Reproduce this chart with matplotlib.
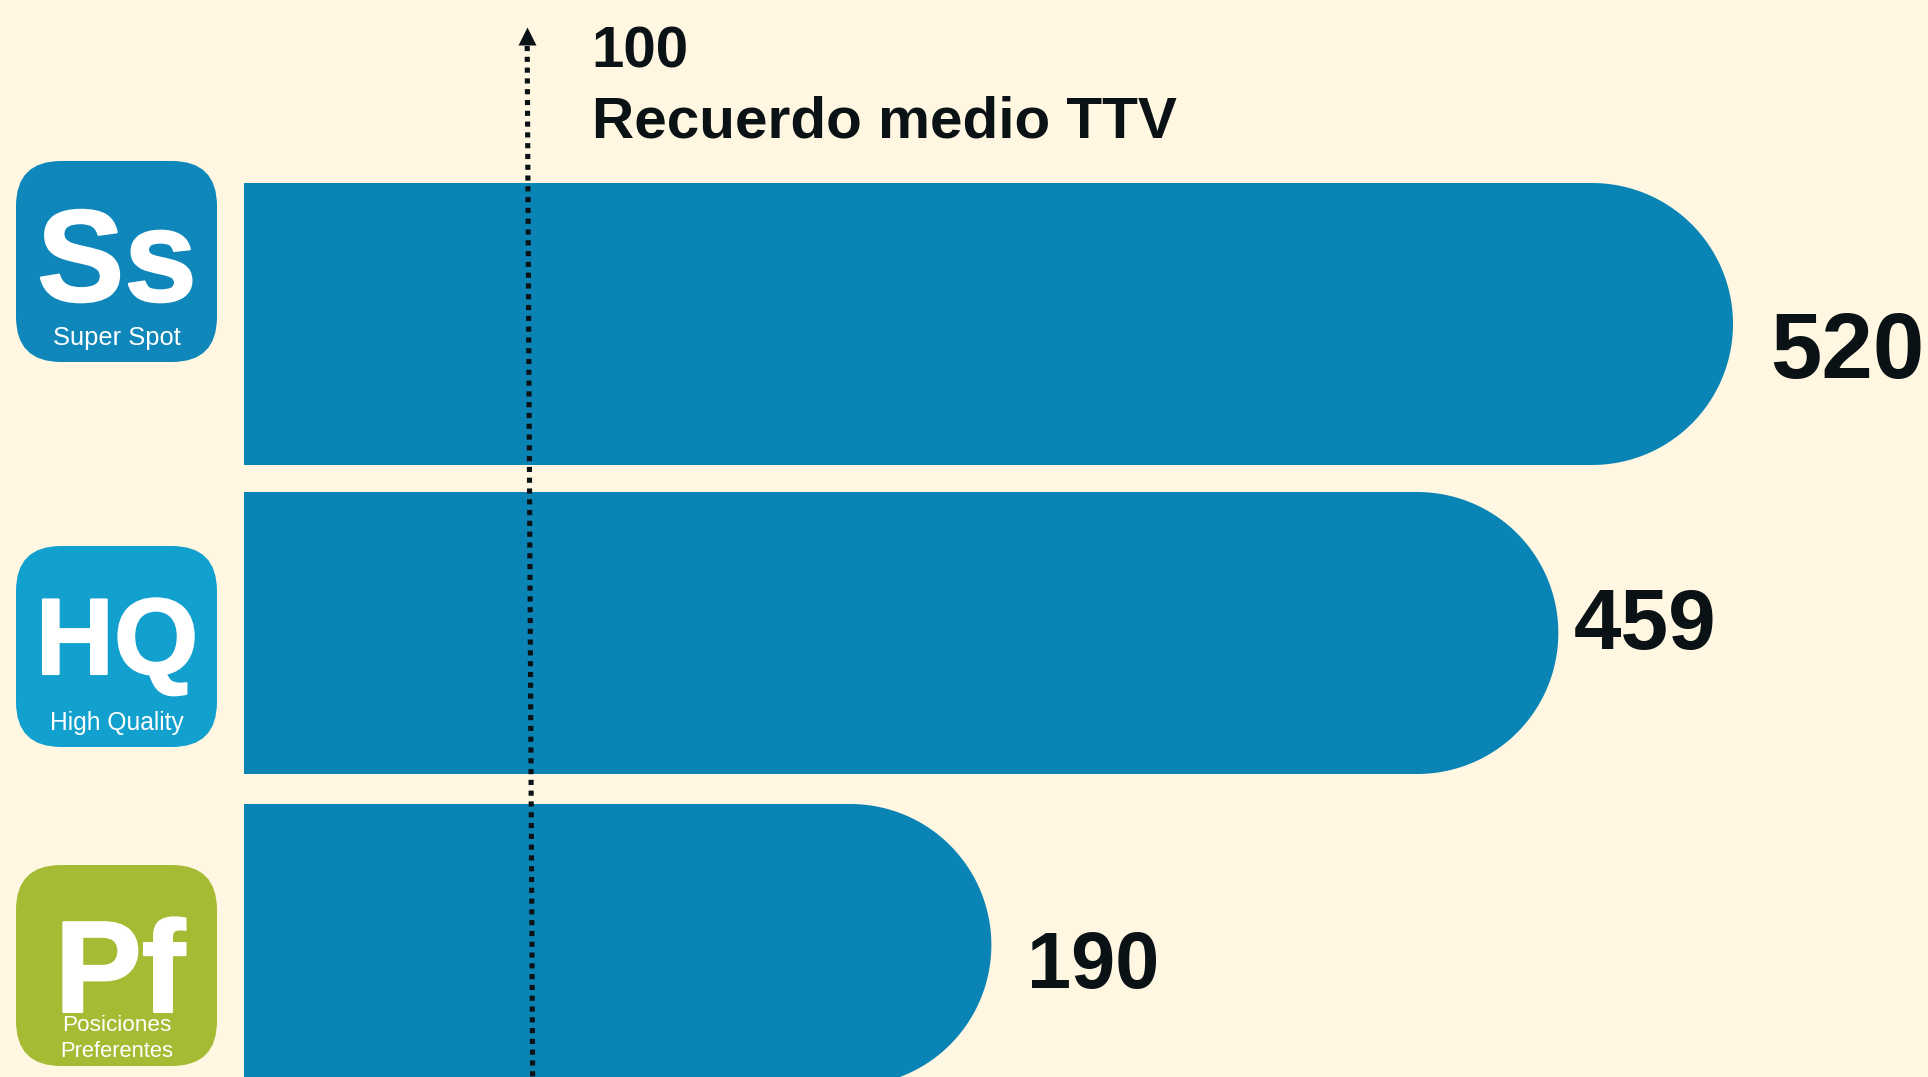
import numpy as np
import matplotlib
matplotlib.use("Agg")
import matplotlib.pyplot as plt
import matplotlib.patheffects as pe
from matplotlib.patches import FancyBboxPatch, Polygon

plt.rcParams['font.family'] = ['Liberation Sans', 'DejaVu Sans']

# third bar is drawn longer than its label in the original
bar_lengths = [520, 459, 261]
bar_labels = ["520", "459", "190"]
ref_value = [98.9, 100.8]
ref_label = "100"
ref_title = "Recuerdo medio TTV"

BG = '#fff7e2'
BAR = '#0a83b5'
DARK = '#0b1215'
W, H = 1928, 1077
PX_PER_UNIT = 2.8635
X0 = 244

fig = plt.figure(figsize=(W / 100, H / 100), dpi=100, facecolor=BG)
ax = fig.add_axes([0, 0, 1, 1])
ax.set_xlim(-X0 / PX_PER_UNIT, (W - X0) / PX_PER_UNIT)
ax.set_ylim(H, 0)
ax.axis('off')

# overlay in pixel coords for icons and text
ov = fig.add_axes([0, 0, 1, 1])
ov.set_xlim(0, W)
ov.set_ylim(H, 0)
ov.axis('off')

bar_tops = [183, 492, 804]
bar_h = 282
r_x = (bar_h / 2) / PX_PER_UNIT
theta = np.linspace(np.pi / 2, -np.pi / 2, 80)
for top, length in zip(bar_tops, bar_lengths):
    cy = top + bar_h / 2
    xs = (length - r_x) + r_x * np.cos(theta)
    ys = cy - (bar_h / 2) * np.sin(theta)
    pts = [(0, top)] + list(zip(xs, ys)) + [(0, top + bar_h)]
    ax.add_patch(Polygon(pts, closed=True, facecolor=BAR, edgecolor='none'))

# dotted reference arrow
ax.plot(ref_value, [46, H], color=DARK, lw=3.7, linestyle=(0, (1, 1.1)), dash_capstyle='butt')
ax.plot(ref_value[0], 36, marker='^', ms=13.5, color=DARK, mec='none')

ov.text(591, 68, ref_label, fontsize=42, fontweight='bold', color=DARK, va='baseline')
ov.text(592, 137, ref_title, fontsize=42.1, fontweight='bold', color=DARK, va='baseline')

# value labels
label_x = [1770, 1574, 1027]
label_y = [378, 649, 988]
label_fs = [66.5, 61.6, 57]
for s, x, y, fs in zip(bar_labels, label_x, label_y, label_fs):
    ov.text(x, y, s, fontsize=fs, fontweight='bold', color=DARK, va='baseline')

# icons
def icon(top, color, big, big_x, big_y, big_fs, small, small_y, small_fs):
    ov.add_patch(FancyBboxPatch((16 + 45, top + 45), 201 - 90, 201 - 90,
                                boxstyle="round,pad=45,rounding_size=45",
                                facecolor=color, edgecolor='none'))
    t = ov.text(big_x, big_y, big, fontsize=big_fs, fontweight='bold', color='white', ha='center', va='baseline')
    t.set_path_effects([pe.withStroke(linewidth=1.5, foreground='white')])
    for s, y, fs in zip(small, small_y, small_fs):
        ov.text(117, y, s, fontsize=fs, color='white', ha='center', va='baseline')

icon(161, '#0f87ba', "Ss", 117, 301, 94, ["Super Spot"], [345], [18.4])
icon(546, '#12a0cf', "HQ", 117, 674, 78, ["High Quality"], [730], [17.7])
icon(865, '#a5bb33', "Pf", 120, 1012, 94, ["Posiciones", "Preferentes"], [1031, 1057], [16.2, 15.8])

fig.savefig('out.png', dpi=100, facecolor=BG)
